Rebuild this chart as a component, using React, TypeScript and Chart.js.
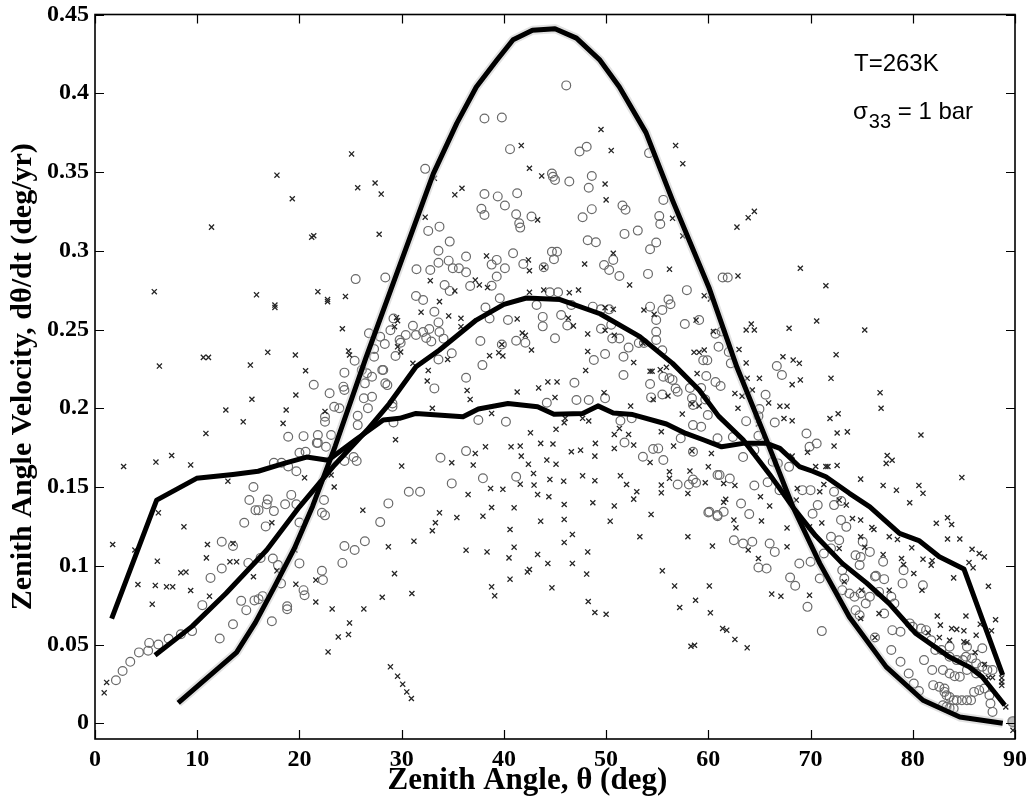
import React, { useEffect, useRef } from "react";
import { Chart, registerables } from "chart.js";
Chart.register(...registerables);

const xTicks = [0, 10, 20, 30, 40, 50, 60, 70, 80, 90];
const xTickLabels = ["0", "10", "20", "30", "40", "50", "60", "70", "80", "90"];
const yTicks = [0, 0.05, 0.1, 0.15, 0.2, 0.25, 0.3, 0.35, 0.4, 0.45];
const yTickLabels = ["0", "0.05", "0.1", "0.15", "0.2", "0.25", "0.3", "0.35", "0.4", "0.45"];
const xTitle = "Zenith Angle, \u03b8 (deg)";
const yTitle = "Zenith Angle Velocity, d\u03b8/dt (deg/yr)";
const noteTemp = "T=263K";
const noteStress = ["\u03c3", "33", " = 1 bar"];

// thick model curves
const lineA = [[8.14,0.013],[13.85,0.045],[15.7,0.064],[17.5,0.086],[19.5,0.111],[21.3,0.138],[23.5,0.176],[26.5,0.232],[30.0,0.294],[33.1,0.349],[35.4,0.381],[37.3,0.404],[39.3,0.421],[40.9,0.434],[42.8,0.440],[45.0,0.441],[47.1,0.435],[49.4,0.421],[51.3,0.404],[53.9,0.375],[56.5,0.332],[58.3,0.304],[60.1,0.276],[62.8,0.226],[65.8,0.178],[68.3,0.137],[70.9,0.1015],[73.8,0.0675],[77.4,0.0358],[81.0,0.0146],[84.6,0.004],[88.8,0.0]];
const lineB = [[5.87,0.0432],[9.5,0.0615],[12.8,0.0824],[16.8,0.110],[20.0,0.1374],[23.3,0.163],[26.6,0.186],[28.8,0.203],[31.4,0.2264],[33.7,0.237],[37.3,0.256],[40.0,0.266],[42.2,0.270],[45.5,0.269],[49.4,0.260],[53.3,0.2455],[56.5,0.2285],[59.1,0.2116],[61.0,0.195],[63.4,0.180],[66.0,0.158],[68.3,0.137],[70.5,0.119],[73.1,0.1015],[75.5,0.089],[77.7,0.076],[80.3,0.057],[83.6,0.042],[85.5,0.0358],[86.8,0.0294],[89.0,0.0114]];
const lineC = [[1.63,0.0665],[6.03,0.1417],[9.94,0.1555],[13.5,0.158],[15.96,0.160],[18.5,0.165],[20.7,0.169],[22.8,0.167],[25.5,0.180],[28.2,0.1925],[29.8,0.1936],[31.4,0.1967],[36.0,0.1946],[37.5,0.1995],[40.4,0.203],[43.3,0.201],[44.9,0.1962],[47.7,0.1967],[49.2,0.2015],[50.7,0.197],[52.6,0.196],[55.9,0.190],[57.8,0.184],[59.5,0.180],[61.3,0.1755],[63.4,0.1777],[65.7,0.1777],[67.0,0.1745],[68.9,0.163],[70.2,0.160],[71.5,0.1565],[73.8,0.146],[75.8,0.1374],[78.7,0.1205],[80.6,0.116],[82.6,0.1057],[85.0,0.098],[88.8,0.0305]];

// x-marker observations
const crossPoints = [[25.1,0.3615],[17.8,0.348],[25.7,0.340],[27.4,0.343],[28.0,0.336],[19.3,0.333],[11.4,0.315],[21.2,0.3086],[21.4,0.3095],[27.8,0.3105],
[5.8,0.274],[15.8,0.272],[17.6,0.2655],[17.6,0.264],[21.8,0.274],[22.75,0.269],[22.75,0.2677],[24.5,0.271],[24.2,0.2505],[24.8,0.2363],[24.9,0.2338],
[6.3,0.2268],[10.6,0.2323],[11.1,0.2323],[15.2,0.2274],[16.9,0.2355],[19.6,0.2338],[20.6,0.2238],[15.35,0.2057],[12.8,0.1989],[19.65,0.2084],[18.7,0.1989],[14.5,0.1914],[18.4,0.1904],[10.85,0.184],[22.5,0.198],[29.5,0.2575],[29.3,0.2518],[29.6,0.239],[29.4,0.180],
[2.8,0.163],[5.96,0.1658],[7.5,0.170],[9.36,0.164],[13.0,0.1537],[20.5,0.1558],[23.1,0.1576],[23.4,0.150],[26.2,0.1353],[28.7,0.112],[29.3,0.095],[28.1,0.080],[26.3,0.0726],[23.2,0.0726],[24.9,0.0637],[23.8,0.0548],[24.8,0.0563],[22.8,0.0453],[28.9,0.0358],[29.6,0.0299],[30.1,0.0248],[30.5,0.0199],[30.95,0.0157],
[1.73,0.1135],[3.9,0.110],[6.2,0.1336],[8.7,0.1247],[11.0,0.1135],[10.9,0.105],[13.5,0.1141],[6.1,0.1029],[4.2,0.0881],[5.9,0.0875],[7.0,0.0866],[7.6,0.0866],[8.4,0.0955],[8.9,0.096],[9.36,0.0843],[5.6,0.0756],[11.2,0.0807],[13.2,0.1025],[13.85,0.1025],[15.5,0.093],[17.3,0.1273],[17.8,0.0968],[19.65,0.0883],[21.6,0.0909],[21.6,0.077],[19.55,0.110],[1.14,0.0259],[0.9,0.0193],
[49.5,0.377],[56.8,0.3668],[57.5,0.3553],[50.5,0.3636],[41.7,0.3668],[42.5,0.3524],[43.7,0.3475],[49.9,0.3424],[50.0,0.3323],[35.9,0.3397],[35.2,0.3355],[33.2,0.346],[32.3,0.3213],[43.3,0.3196],[56.5,0.3206],[57.5,0.3094],[50.7,0.2984],[47.9,0.2916],[42.4,0.2942],[42.5,0.2873],[43.9,0.2895],[38.3,0.2967],[56.2,0.2883],[52.3,0.2783],[32.8,0.281],[37.2,0.2814],[37.6,0.2783],[38.4,0.2766],[35.2,0.2745],[33.7,0.2677],[31.9,0.261],[34.6,0.2586],[35.8,0.2571],[35.8,0.2518],[42.5,0.2736],[43.9,0.2751],[46.4,0.2734],[47.3,0.2751],[41.3,0.2567],[46.3,0.2573],[46.8,0.2523],[41.8,0.2478],[42.1,0.2463],[39.8,0.2405],[48.2,0.2472],[49.9,0.2495],[50.8,0.2463],[49.9,0.2638],[50.7,0.2628],[53.7,0.2624],[54.7,0.2596],[58.8,0.256],[59.6,0.2715],[60.2,0.2694],[60.5,0.2488],[53.6,0.2413],[48.2,0.2361],[58.6,0.2355],[59.1,0.2355],[59.6,0.237],[52.7,0.229],[54.3,0.2235],[54.5,0.2235],[55.3,0.2245],[55.9,0.226],[58.9,0.222],[48.0,0.224],[29.9,0.2357],[38.6,0.2334],[39.5,0.2353],[39.9,0.2332],[42.7,0.237],[34.5,0.231],[31.1,0.2285],[32.6,0.224],[32.5,0.2173],[36.4,0.2113],[41.3,0.2103],[43.4,0.2129],[44.3,0.2167],[45.2,0.2167],[29.6,0.2556],
[36.7,0.2056],[45.0,0.2069],[49.8,0.2099],[33.0,0.2],[38.8,0.1967],[52.4,0.2014],[54.6,0.2056],[56.05,0.2078],[57.45,0.1963],[58.4,0.2027],[59.1,0.2014],[45.9,0.1908],[46.0,0.1936],[47.7,0.1936],[48.3,0.1919],[42.6,0.1844],[45.1,0.1866],[30.0,0.1633],[34.9,0.1654],[37.0,0.1639],[37.2,0.1713],[38.2,0.1755],[40.7,0.1755],[41.6,0.1760],[41.7,0.1696],[42.4,0.1645],[43.6,0.1777],[44.8,0.1773],[44.2,0.1671],[45.1,0.1645],[42.9,0.1586],[42.95,0.1512],[41.6,0.1518],[44.5,0.1548],[45.85,0.1537],[46.6,0.1724],[47.5,0.1734],[48.95,0.1777],[48.9,0.1696],[47.7,0.1571],[48.9,0.1540],[50.8,0.1834],[51.3,0.1872],[52.2,0.1834],[50.8,0.1745],[52.7,0.1766],[51.4,0.1571],[52.0,0.1516],[55.4,0.1851],[56.6,0.1760],[54.3,0.1656],[56.2,0.1597],[56.2,0.1555],[55.4,0.1512],[55.4,0.1463],[58.0,0.1459],[58.2,0.1601],[58.4,0.1728],[59.7,0.1527],[60.0,0.1628],[60.3,0.1713],[53.0,0.147],[52.7,0.1423],[50.8,0.138],[54.4,0.1326],[53.3,0.1184],[58.0,0.1184],[60.4,0.1125],[48.7,0.140],[50.4,0.1283],[45.9,0.1389],[45.9,0.1294],[46.7,0.1199],[45.9,0.1148],[43.6,0.1283],[44.4,0.1438],[43.3,0.1452],[41.0,0.1368],[39.9,0.1485],[38.7,0.1491],[38.8,0.1370],[37.95,0.1315],[36.5,0.1452],[35.4,0.1306],[33.7,0.1336],[33.3,0.1273],[33.0,0.1222],[31.2,0.1156],[36.3,0.1099],[38.35,0.1088],[40.6,0.123],[41.0,0.1118],[40.5,0.105],[40.6,0.0915],[43.3,0.1072],[44.3,0.1015],[42.3,0.0961],[42.5,0.0976],[46.7,0.1015],[48.2,0.1088],[48.1,0.0947],[44.7,0.086],[38.8,0.0866],[39.1,0.0809],[31.0,0.0824],[48.25,0.0773],[48.9,0.0703],[50.0,0.0692],[55.5,0.0968],[56.7,0.0872],[57.2,0.0735],[58.75,0.0781],[60.1,0.0872],[60.2,0.0701],[58.3,0.0489],[58.65,0.0495],
[62.8,0.315],[63.9,0.321],[64.5,0.325],[62.9,0.284],[69.0,0.2889],[71.5,0.2778],[70.6,0.2554],[75.3,0.2497],[67.9,0.2508],[63.7,0.2497],[64.2,0.2535],[64.5,0.2497],[63.0,0.2373],[63.7,0.2288],[67.3,0.2327],[68.3,0.2306],[68.9,0.2285],[72.5,0.234],[72.0,0.219],[69.0,0.218],[68.2,0.215],[65.0,0.219],[63.8,0.219],[62.6,0.2094],[63.3,0.2077],[64.3,0.2116],[65.9,0.2034],[67.0,0.2013],[67.7,0.2013],[67.4,0.1935],[68.2,0.192],[71.9,0.1935],[72.7,0.1965],[72.6,0.1843],[73.6,0.185],[76.8,0.2099],[76.9,0.200],[80.8,0.183],[62.9,0.2],[64.9,0.19],
[72.3,0.176],[69.7,0.172],[68.2,0.1696],[70.5,0.163],[71.5,0.163],[71.7,0.163],[72.6,0.1637],[77.5,0.170],[77.4,0.165],[77.98,0.167],[74.9,0.155],[77.1,0.151],[78.4,0.148],[80.6,0.151],[81.0,0.146],[84.8,0.156],[79.7,0.14],[71.3,0.1516],[72.8,0.1417],[73.5,0.1385],[70.9,0.147],[74.1,0.130],[74.9,0.129],[76.0,0.1243],[76.2,0.123],[77.7,0.1184],[78.5,0.1167],[79.9,0.1114],[82.3,0.127],[83.4,0.1305],[83.8,0.1262],[83.4,0.117],[84.6,0.117],[85.8,0.1105],[86.5,0.1078],[87.0,0.1056],[85.5,0.102],[85.9,0.0987],[84.0,0.0923],[87.4,0.087],[78.9,0.1046],[79.1,0.1008],[80.1,0.0951],[81.0,0.1042],[81.9,0.1032],[81.8,0.1004],[80.9,0.0845],[77.1,0.1071],[73.3,0.0898],[75.0,0.0845],[76.7,0.0697],[74.9,0.0665],[76.3,0.0544],[77.7,0.0845],[82.4,0.0681],[82.7,0.0623],[83.8,0.0602],[84.3,0.0596],[85.0,0.0587],[81.5,0.0575],[82.6,0.0544],[83.6,0.0527],[85.0,0.0517],[85.3,0.0513],[86.2,0.0559],[86.6,0.0629],[87.7,0.0587],[88.1,0.0657],[85.2,0.0681],[86.1,0.0449],[87.0,0.0373],[87.4,0.029],[87.8,0.029],[88.7,0.0288],[88.7,0.0262],[88.7,0.0241],[89.1,0.0103],[89.8,-0.0045],[67.7,0.112],[69.9,0.0813],[66.2,0.082],[67.1,0.0807],[61.5,0.1403],[61.7,0.1422],[62.5,0.129],[62.7,0.1241],[64.9,0.1046],[61.4,0.0602],[61.8,0.0591],[62.6,0.0532],[63.8,0.0479],[65.1,0.1438],[66.0,0.138],[65.2,0.1284],[61.5,0.1522],[62.6,0.151],[63.9,0.110],[68.7,0.1491],[68.6,0.1417],[69.9,0.1247],[71.1,0.1272],[67.7,0.124],[72.8,0.111],[74.9,0.1184],[75.3,0.1118]];

// open-circle observations
const circlePoints = [[25.5,0.282],[28.4,0.283],[29.2,0.257],[28.9,0.2495],[26.8,0.2476],[27.9,0.2454],[27.3,0.2376],[28.35,0.2408],[29.4,0.2332],[27.3,0.2327],[25.4,0.2302],[24.4,0.2226],[26.1,0.2243],[26.6,0.2222],[28.1,0.2243],[28.2,0.2243],[27.1,0.220],[24.3,0.2137],[24.4,0.2116],[26.4,0.2158],[28.4,0.2158],[28.6,0.2147],[21.4,0.2149],[22.95,0.2095],[23.4,0.201],[23.9,0.200],[22.5,0.1946],[22.5,0.1914],[26.3,0.2063],[27.1,0.2073],[26.7,0.200],[25.7,0.1952],[29.1,0.203],[29.1,0.201],[29.2,0.191],[18.9,0.1819],[20.4,0.1823],[21.8,0.183],[21.8,0.178],[23.1,0.183],[25.7,0.1893],
[2.05,0.0273],[2.7,0.0332],[3.45,0.039],[4.3,0.045],[5.2,0.046],[5.3,0.051],[6.2,0.050],[7.2,0.0536],[8.4,0.0565],[9.5,0.0585],[12.2,0.0538],[10.5,0.075],[11.3,0.0923],[12.4,0.0983],[12.4,0.1152],[13.5,0.1125],[13.5,0.0629],[14.3,0.0777],[14.8,0.0718],[14.6,0.1273],[15.1,0.1417],[15.5,0.150],[15.7,0.1353],[16.0,0.1353],[16.8,0.139],[16.9,0.142],[17.5,0.1347],[16.7,0.125],[15.0,0.1018],[16.2,0.105],[17.4,0.1046],[17.9,0.1004],[18.2,0.0887],[15.6,0.078],[16.0,0.0788],[16.4,0.0807],[17.3,0.0648],[18.8,0.0743],[18.8,0.0724],[18.6,0.139],[19.2,0.145],[19.7,0.139],[20.0,0.1275],[20.0,0.1015],[20.4,0.0845],[20.5,0.0813],[19.7,0.160],[18.9,0.163],[17.5,0.1654],[18.25,0.1654],[20.0,0.1717],[20.6,0.1724],[21.7,0.178],[22.6,0.1755],[22.4,0.1417],[22.2,0.1336],[22.5,0.132],[22.2,0.0968],[22.3,0.0909],[24.2,0.1018],[24.4,0.1125],[25.4,0.110],[26.4,0.1156],[27.9,0.1277],[28.7,0.1396],[24.4,0.1665],[25.3,0.169],[25.6,0.1665],
[46.1,0.405],[38.1,0.384],[39.8,0.3846],[40.6,0.3645],[47.4,0.363],[48.1,0.366],[32.3,0.352],[44.7,0.349],[44.8,0.347],[45.0,0.345],[46.4,0.344],[48.6,0.3475],[48.3,0.340],[38.1,0.336],[39.4,0.3345],[40.1,0.3287],[41.3,0.3365],[37.8,0.3266],[38.1,0.3227],[41.2,0.3232],[41.5,0.3175],[41.6,0.3147],[42.7,0.3217],[47.7,0.3213],[48.6,0.3264],[51.6,0.3287],[51.9,0.326],[55.6,0.3323],[55.2,0.322],[55.3,0.317],[54.2,0.362],[53.1,0.3128],[51.8,0.3107],[48.2,0.3067],[49.0,0.3054],[54.9,0.3052],[54.3,0.301],[32.6,0.3126],[33.7,0.3153],[34.7,0.3058],[33.6,0.300],[33.6,0.2924],[34.6,0.2937],[35.0,0.2889],[35.6,0.2889],[36.3,0.2963],[36.3,0.2863],[31.45,0.2883],[32.8,0.2878],[40.9,0.2984],[39.3,0.2942],[38.8,0.2912],[40.1,0.2889],[39.3,0.2836],[38.8,0.2778],[36.7,0.2776],[34.2,0.2783],[34.7,0.2745],[41.9,0.2916],[43.9,0.2895],[44.7,0.2994],[45.2,0.2994],[44.9,0.2946],[49.8,0.291],[50.7,0.2942],[50.3,0.2878],[51.3,0.284],[54.1,0.2853],[57.9,0.275],[31.4,0.2713],[32.1,0.2687],[33.2,0.2613],[31.1,0.2524],[30.4,0.2465],[29.8,0.2433],[31.4,0.2465],[32.7,0.2503],[33.6,0.2545],[32.1,0.2484],[32.4,0.2446],[32.9,0.2424],[33.7,0.2484],[34.1,0.2442],[29.9,0.2416],[34.9,0.2349],[33.6,0.231],[33.2,0.2126],[38.2,0.264],[38.6,0.257],[37.7,0.2427],[37.9,0.2274],[39.6,0.2698],[40.4,0.256],[41.2,0.2429],[42.1,0.2416],[39.8,0.2405],[43.2,0.2656],[43.8,0.258],[43.8,0.252],[44.5,0.2736],[45.3,0.2736],[45.0,0.2444],[45.6,0.2592],[46.2,0.2525],[46.6,0.2656],[48.7,0.2645],[49.5,0.2628],[50.3,0.2628],[49.5,0.2505],[50.5,0.253],[50.6,0.2443],[51.3,0.2443],[49.9,0.2344],[48.8,0.2306],[52.2,0.2385],[51.7,0.2327],[51.7,0.2211],[53.2,0.2414],[53.7,0.2414],[54.3,0.2645],[54.9,0.256],[55.5,0.2624],[56.1,0.269],[56.3,0.266],[54.9,0.2486],[54.9,0.2433],[55.5,0.2368],[57.7,0.2535],[59.1,0.256],[60.7,0.2473],[61.0,0.239],[59.9,0.2305],[59.5,0.2305],[59.8,0.2205],[60.7,0.2167],[54.3,0.2154],[55.6,0.220],[56.2,0.219],[56.5,0.218],[56.8,0.2125],[58.2,0.2129],[59.3,0.2129],[55.5,0.2087],[46.9,0.2162],[36.3,0.2194],
[37.5,0.1925],[40.2,0.1914],[33.8,0.1686],[36.3,0.1728],[37.95,0.1555],[34.9,0.1523],[41.2,0.1565],[30.7,0.147],[31.8,0.147],[44.2,0.2035],[47.1,0.2052],[48.3,0.2052],[49.9,0.2063],[51.4,0.1921],[52.5,0.1936],[51.8,0.1783],[53.6,0.1692],[54.6,0.1741],[55.1,0.1745],[55.6,0.1671],[57.3,0.1809],[57.0,0.1516],[58.1,0.1516],[58.5,0.1548],[58.8,0.1527],[54.4,0.2069],[57.0,0.2105],[58.4,0.2063],[58.5,0.2021],[59.7,0.2056],[58.5,0.1893],[59.3,0.1882],[59.95,0.1957],[60.9,0.1809],[60.9,0.1576],[60.0,0.1338],[60.9,0.1315],[58.5,0.1724],
[61.4,0.283],[61.9,0.283],[61.3,0.2487],[62.0,0.2357],[62.2,0.2285],[66.7,0.2268],[67.2,0.2211],[61.2,0.2141],[65.6,0.2086],[63.7,0.1918],[64.9,0.195],[65.0,0.1995],[62.4,0.1817],[64.9,0.1825],[66.5,0.191],[69.6,0.184],[70.6,0.1776],
[69.9,0.1755],[63.4,0.169],[64.5,0.1734],[61.1,0.1576],[62.1,0.1554],[64.5,0.151],[60.1,0.1343],[60.9,0.1322],[61.5,0.1343],[63.2,0.1395],[64.0,0.1328],[62.5,0.1162],[63.4,0.1141],[64.3,0.1152],[66.0,0.1141],[66.5,0.1088],[64.9,0.0989],[65.7,0.0982],[68.0,0.0925],[68.5,0.0873],[68.9,0.1014],[69.7,0.0739],[71.1,0.0585],[65.8,0.153],[66.96,0.148],[67.9,0.1628],[66.3,0.166],[66.8,0.165],[69.2,0.148],[70.0,0.148],[70.7,0.1385],[70.2,0.133],[72.3,0.147],[72.3,0.1385],[73.0,0.1411],[72.8,0.1162],[72.0,0.1184],[70.0,0.1025],[70.9,0.0919],[72.0,0.111],[71.3,0.1078],[72.98,0.129],[73.5,0.1247],[74.4,0.1067],[74.9,0.1056],[74.8,0.1004],[75.1,0.1152],[75.8,0.1088],[73.1,0.0971],[73.3,0.0919],[73.1,0.0845],[73.8,0.0824],[74.3,0.0803],[74.9,0.0824],[74.4,0.0718],[74.8,0.0686],[75.4,0.076],[75.8,0.0803],[76.4,0.0936],[77.2,0.0915],[77.1,0.1025],[76.7,0.0834],[77.9,0.0803],[78.2,0.076],[77.2,0.0697],[78.0,0.0591],[78.8,0.0581],[77.9,0.0465],[78.8,0.039],[79.6,0.0316],[80.1,0.0252],[80.6,0.0205],[79.1,0.0971],[79.0,0.0888],[79.7,0.0634],[80.0,0.0612],[80.8,0.0602],[81.3,0.0591],[81.8,0.0527],[81.1,0.0401],[81.9,0.0338],[82.2,0.0465],[82.8,0.0465],[82.95,0.0338],[82.0,0.0242],[82.6,0.0231],[83.1,0.0221],[83.6,0.0316],[84.1,0.0299],[84.6,0.0295],[83.1,0.0199],[83.3,0.0178],[83.6,0.0167],[82.95,0.0114],[83.3,0.0104],[83.6,0.0097],[84.0,0.0093],[84.0,0.0146],[84.3,0.0146],[84.8,0.0146],[85.3,0.0146],[85.7,0.0146],[86.0,0.0199],[86.5,0.021],[87.0,0.0221],[83.6,0.0422],[84.3,0.0401],[84.9,0.0401],[83.6,0.0486],[85.2,0.0422],[85.3,0.0338],[86.2,0.038],[86.2,0.0316],[86.8,0.0359],[87.3,0.0338],[87.8,0.0338],[87.5,0.0178],[87.6,0.0125],[87.8,0.0072],[85.3,0.0486],[85.8,0.0412],[86.8,0.0476],[80.99,0.0876],[76.3,0.0932],[76.3,0.0544]];

const endPoint = [[89.8,0.001]];

const toXY = (arr: number[][]) => arr.map(([x, y]) => ({ x, y }));

const serif = "'Liberation Serif', 'Times New Roman', serif";
const sans = "'Liberation Sans', Arial, sans-serif";

const framePlugin = {
  id: "frameTicksNotes",
  afterDraw(chart: any) {
    const { ctx, chartArea: a, scales } = chart;
    const xs = scales.x;
    const ys = scales.y;
    ctx.save();
    ctx.strokeStyle = "#000";
    ctx.lineWidth = 1.6;
    ctx.strokeRect(a.left, a.top, a.right - a.left, a.bottom - a.top);
    ctx.beginPath();
    const tl = 9;
    xTicks.forEach((v) => {
      const px = Math.round(xs.getPixelForValue(v)) + 0.5;
      ctx.moveTo(px, a.bottom);
      ctx.lineTo(px, a.bottom - tl);
      ctx.moveTo(px, a.top);
      ctx.lineTo(px, a.top + tl);
    });
    yTicks.forEach((v) => {
      const py = Math.round(ys.getPixelForValue(v)) + 0.5;
      ctx.moveTo(a.left, py);
      ctx.lineTo(a.left + tl, py);
      ctx.moveTo(a.right, py);
      ctx.lineTo(a.right - tl, py);
    });
    ctx.lineWidth = 1.2;
    ctx.stroke();

    // x-axis title
    ctx.fillStyle = "#000";
    ctx.textAlign = "center";
    ctx.textBaseline = "alphabetic";
    ctx.font = `bold 31px ${serif}`;
    ctx.fillText(xTitle, a.left + (a.right - a.left) * 0.47, a.bottom + 50);

    // annotation
    ctx.textAlign = "left";
    ctx.font = `24px ${sans}`;
    ctx.fillText(noteTemp, a.right - 161, a.top + 56.5);
    let cx = a.right - 162;
    const by = a.top + 104;
    ctx.fillText(noteStress[0], cx, by);
    cx += ctx.measureText(noteStress[0]).width + 1;
    ctx.font = `20px ${sans}`;
    ctx.fillText(noteStress[1], cx, by + 9);
    cx += ctx.measureText(noteStress[1]).width;
    ctx.font = `24px ${sans}`;
    ctx.fillText(noteStress[2], cx, by);
    ctx.restore();
  },
};

export default function App() {
  const ref = useRef<HTMLCanvasElement>(null);
  useEffect(() => {
    const canvas = ref.current;
    if (!canvas) return;
    const chart = new Chart(canvas, {
      type: "scatter",
      data: {
        datasets: [
          { label: "curve A", data: toXY(lineA), showLine: true, borderColor: "#000", borderWidth: 5, pointRadius: 0, borderJoinStyle: "round", borderCapStyle: "butt", tension: 0, order: 0 },
          { label: "curve B", data: toXY(lineB), showLine: true, borderColor: "#000", borderWidth: 5, pointRadius: 0, borderJoinStyle: "round", borderCapStyle: "butt", tension: 0, order: 0 },
          { label: "curve C", data: toXY(lineC), showLine: true, borderColor: "#000", borderWidth: 5, pointRadius: 0, borderJoinStyle: "round", borderCapStyle: "butt", tension: 0, order: 0 },
          { label: "curve A samples", data: toXY(lineA), showLine: true, borderColor: "rgba(195,195,195,0.5)", borderWidth: 9, pointRadius: 0, borderJoinStyle: "round", tension: 0, order: 1 },
          { label: "end", data: toXY(endPoint), pointStyle: "circle", pointRadius: 5, borderColor: "#888", backgroundColor: "#bdbdbd", borderWidth: 1.5, order: 2 },
          { label: "crosses", data: toXY(crossPoints), pointStyle: "crossRot", pointRadius: 3.6, borderColor: "#262626", backgroundColor: "#262626", borderWidth: 1.3, order: 2 },
          { label: "circles", data: toXY(circlePoints), pointStyle: "circle", pointRadius: 4.4, borderColor: "#6a6a6a", backgroundColor: "rgba(0,0,0,0)", borderWidth: 1.2, order: 3 },
        ] as any,
      },
      options: {
        responsive: false,
        animation: false,
        devicePixelRatio: 1,
        events: [],
        layout: { padding: { top: 14.5, right: 16, left: 0, bottom: 0 } },
        plugins: { legend: { display: false }, tooltip: { enabled: false }, title: { display: false } },
        scales: {
          x: {
            type: "linear",
            min: 0,
            max: 90,
            afterBuildTicks: (s: any) => { s.ticks = xTicks.map((v) => ({ value: v })); },
            afterFit: (s: any) => { s.height = 66; s.paddingLeft = 0; s.paddingRight = 0; },
            grid: { display: false, drawTicks: false },
            border: { display: false },
            ticks: {
              color: "#000",
              padding: 9,
              maxRotation: 0,
              autoSkip: false,
              font: { family: serif, size: 24, weight: "bold", lineHeight: 1 },
              callback: (_v: any, i: number) => xTickLabels[i],
            },
            title: { display: false },
          },
          y: {
            type: "linear",
            min: -0.01,
            max: 0.45,
            afterBuildTicks: (s: any) => { s.ticks = yTicks.map((v) => ({ value: v })); },
            afterFit: (s: any) => { s.width = 95; s.paddingTop = 0; s.paddingBottom = 0; },
            grid: { display: false, drawTicks: false },
            border: { display: false },
            ticks: {
              color: "#000",
              padding: 6,
              autoSkip: false,
              font: { family: serif, size: 24, weight: "bold", lineHeight: 1 },
              callback: (_v: any, i: number) => yTickLabels[i],
            },
            title: { display: true, text: yTitle, color: "#000", font: { family: serif, size: 30, weight: "bold", lineHeight: 1.2 }, padding: { top: 5, bottom: 0 } },
          },
        },
      } as any,
      plugins: [framePlugin],
    });
    return () => chart.destroy();
  }, []);
  return (
    <div style={{ position: "fixed", left: 0, top: 0, width: 1031, height: 805, background: "#fff" }}>
      <canvas ref={ref} width={1031} height={805} style={{ display: "block", width: 1031, height: 805 }} />
    </div>
  );
}
